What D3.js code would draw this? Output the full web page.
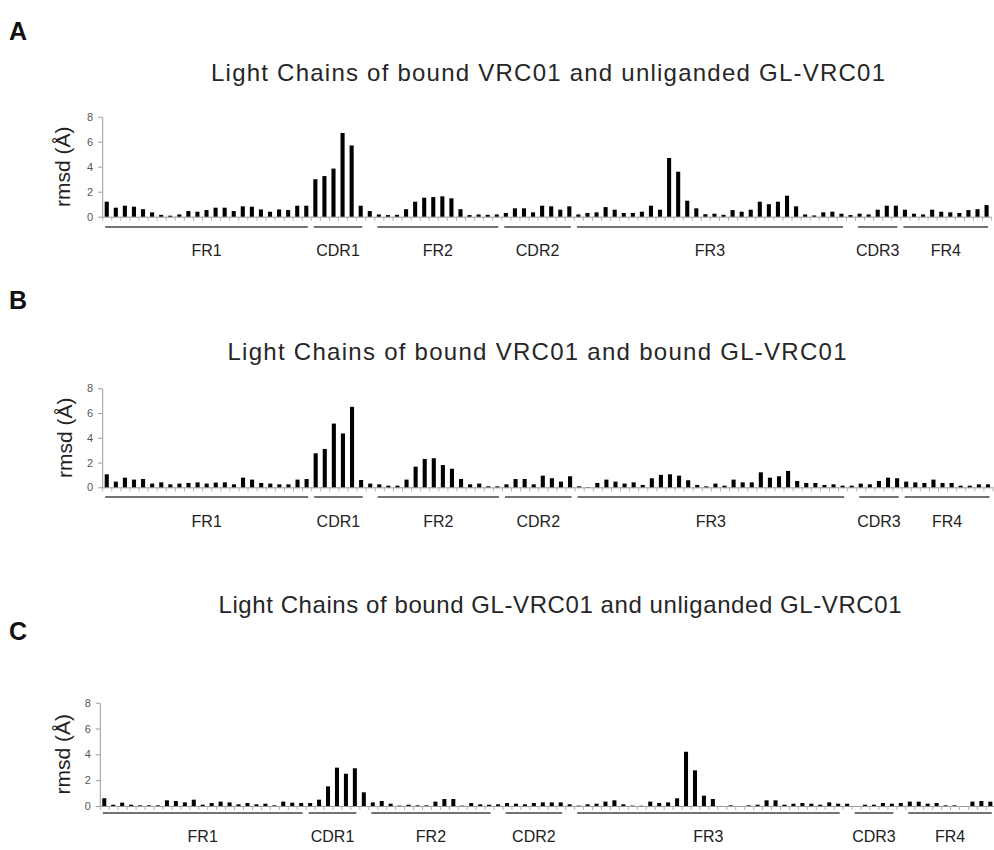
<!DOCTYPE html>
<html>
<head>
<meta charset="utf-8">
<script src="https://cdn.jsdelivr.net/npm/d3@7"></script>
<style>
  html, body { margin: 0; padding: 0; background: #fff; }
  svg { display: block; font-family: "Liberation Sans", Arial, sans-serif; }
</style>
</head>
<body>
<svg id="chart" width="994" height="850"></svg>
<script>
// ---------- DATA ----------
const yTicks = [0, 2, 4, 6, 8];
const yLabel = "rmsd (Å)";

const titleA = "Light Chains of bound VRC01 and unliganded GL-VRC01";
const titleB = "Light Chains of bound VRC01 and bound GL-VRC01";
const titleC = "Light Chains of bound GL-VRC01 and unliganded GL-VRC01";

// rmsd per residue, panel A (bound VRC01 vs unliganded GL-VRC01)
const valuesA = [
  1.2, 0.72, 0.88, 0.8, 0.6, 0.35, 0.15, 0.08, 0.18, 0.45,
  0.4, 0.53, 0.72, 0.72, 0.45, 0.83, 0.8, 0.58, 0.4, 0.58,
  0.53, 0.88, 0.88, 3.0, 3.25, 3.85, 6.7, 5.7, 0.88, 0.45,
  0.18, 0.13, 0.15, 0.6, 1.2, 1.52, 1.57, 1.63, 1.47, 0.6,
  0.13, 0.18, 0.15, 0.18, 0.3, 0.67, 0.67, 0.35, 0.88, 0.83,
  0.56, 0.83, 0.18, 0.3, 0.35, 0.77, 0.56, 0.3, 0.3, 0.4,
  0.88, 0.56, 4.7, 3.6, 1.28, 0.67, 0.2, 0.24, 0.15, 0.53,
  0.4, 0.56, 1.2, 1.0, 1.2, 1.68, 0.83, 0.18, 0.1, 0.35,
  0.4, 0.24, 0.13, 0.24, 0.18, 0.56, 0.88, 0.88, 0.56, 0.24,
  0.18, 0.56, 0.4, 0.35, 0.3, 0.53, 0.6, 0.93
];

// panel B (bound VRC01 vs bound GL-VRC01)
const valuesB = [
  1.05, 0.46, 0.78, 0.62, 0.67, 0.3, 0.4, 0.24, 0.3, 0.35,
  0.4, 0.3, 0.38, 0.4, 0.24, 0.78, 0.62, 0.35, 0.3, 0.24,
  0.24, 0.62, 0.67, 2.75, 3.1, 5.15, 4.35, 6.5, 0.59, 0.3,
  0.24, 0.13, 0.13, 0.62, 1.67, 2.29, 2.35, 1.8, 1.5, 0.67,
  0.24, 0.3, 0.08, 0.08, 0.24, 0.67, 0.67, 0.24, 0.94, 0.73,
  0.46, 0.89, 0.08, 0.02, 0.35, 0.62, 0.46, 0.3, 0.4, 0.19,
  0.73, 1.0, 1.05, 0.94, 0.57, 0.19, 0.08, 0.3, 0.13, 0.62,
  0.4, 0.4, 1.21, 0.78, 0.89, 1.32, 0.51, 0.35, 0.35, 0.19,
  0.24, 0.13, 0.13, 0.3, 0.24, 0.51, 0.78, 0.73, 0.46, 0.4,
  0.35, 0.62, 0.35, 0.35, 0.13, 0.13, 0.24, 0.24
];

// panel C (bound GL-VRC01 vs unliganded GL-VRC01)
const valuesC = [
  0.6, 0.1, 0.26, 0.1, 0.05, 0.05, 0.05, 0.44, 0.39, 0.28,
  0.49, 0.1, 0.23, 0.34, 0.28, 0.13, 0.23, 0.13, 0.18, 0.05,
  0.34, 0.26, 0.23, 0.23, 0.49, 1.52, 2.97, 2.5, 2.92, 1.06,
  0.28, 0.39, 0.18, 0.03, 0.1, 0.05, 0.05, 0.34, 0.54, 0.54,
  0.03, 0.23, 0.13, 0.1, 0.13, 0.23, 0.18, 0.13, 0.23, 0.28,
  0.28, 0.28, 0.13, 0.03, 0.13, 0.18, 0.34, 0.44, 0.13, 0.03,
  0.02, 0.34, 0.23, 0.28, 0.6, 4.2, 2.76, 0.8, 0.54, 0.0,
  0.05, 0.0, 0.05, 0.1, 0.44, 0.44, 0.1, 0.18, 0.23, 0.18,
  0.1, 0.28, 0.18, 0.18, 0.0, 0.1, 0.1, 0.23, 0.18, 0.23,
  0.34, 0.34, 0.18, 0.23, 0.05, 0.05, 0.0, 0.34, 0.39, 0.34
];

// regions: label + first / last residue index
const regionNames = ["FR1", "CDR1", "FR2", "CDR2", "FR3", "CDR3", "FR4"];
const regionStartAB = [1, 24, 31, 45, 53, 84, 89];
const regionEndAB   = [23, 29, 44, 52, 82, 88, 98];
const regionStartC  = [1, 24, 31, 46, 54, 85, 91];
const regionEndC    = [23, 29, 44, 52, 83, 89, 100];

// ---------- DRAW ----------
const svg = d3.select("#chart");

function drawPanel(p) {
  const n = p.values.length;
  const g = svg.append("g");
  const x = d3.scaleBand()
    .domain(d3.range(1, n + 1))
    .range([p.x0, p.x1])
    .paddingInner(0.55)
    .paddingOuter(0.275);
  const xb = d3.scaleLinear().domain([0, n]).range([p.x0, p.x1]);
  const y = d3.scaleLinear().domain([0, 8]).range([p.yBottom, p.yTop]);

  // panel letter
  g.append("text")
    .attr("x", 9).attr("y", p.letterY)
    .attr("font-size", 25).attr("font-weight", "bold").attr("fill", "#111")
    .text(p.letter);

  // title
  g.append("text")
    .attr("x", p.titleX).attr("y", p.titleY)
    .attr("text-anchor", "middle")
    .attr("font-size", 24).attr("fill", "#262626")
    .attr("textLength", p.titleLen).attr("lengthAdjust", "spacing")
    .text(p.title);

  // x axis (baseline with ticks between residues)
  const xAxis = d3.axisBottom(xb)
    .tickValues(d3.range(0, n + 1))
    .tickFormat("")
    .tickSize(4)
    .tickSizeOuter(0);
  const gx = g.append("g")
    .attr("transform", `translate(0,${p.yBottom})`)
    .call(xAxis);
  gx.select(".domain").attr("stroke", "#9a9a9a");
  gx.selectAll(".tick line").attr("stroke", "#b0b0b0");

  // y axis
  const yAxis = d3.axisLeft(y).tickValues(yTicks).tickSize(4).tickSizeOuter(0).tickPadding(5);
  const gy = g.append("g")
    .attr("transform", `translate(${p.x0},0)`)
    .call(yAxis);
  gy.select(".domain").attr("stroke", "#9a9a9a");
  gy.selectAll(".tick line").attr("stroke", "#9a9a9a");
  gy.selectAll(".tick text")
    .attr("font-size", 11).attr("fill", "#555")
    .attr("font-family", "'Liberation Sans', Arial, sans-serif");

  // y label
  g.append("text")
    .attr("transform", `translate(${p.yLabelX},${(p.yTop + p.yBottom) / 2}) rotate(-90)`)
    .attr("text-anchor", "middle")
    .attr("font-size", 21).attr("fill", "#222")
    .text(yLabel);

  // bars
  g.selectAll("rect.bar")
    .data(p.values)
    .join("rect")
    .attr("class", "bar")
    .attr("x", (d, i) => x(i + 1))
    .attr("y", d => y(d))
    .attr("width", x.bandwidth())
    .attr("height", d => y(0) - y(d))
    .attr("fill", "#000");

  // region lines and labels
  const regions = regionNames.map((name, i) => ({
    name, start: p.regionStart[i], end: p.regionEnd[i]
  }));
  g.selectAll("line.region")
    .data(regions)
    .join("line")
    .attr("class", "region")
    .attr("x1", r => xb(r.start - 1) + 3)
    .attr("x2", r => Math.min(xb(r.end) - 3, 994))
    .attr("y1", p.regionY).attr("y2", p.regionY)
    .attr("stroke", "#444").attr("stroke-width", 1.6);
  g.selectAll("text.region")
    .data(regions)
    .join("text")
    .attr("class", "region")
    .attr("x", r => (xb(r.start - 1) + xb(r.end)) / 2)
    .attr("y", p.regionLabelY)
    .attr("text-anchor", "middle")
    .attr("font-size", 16).attr("fill", "#222")
    .text(r => r.name);
}

drawPanel({
  letter: "A", letterY: 40, title: titleA, titleX: 548, titleY: 81, titleLen: 674,
  values: valuesA, x0: 102.2, x1: 991.1, yTop: 116.7, yBottom: 216.7, yLabelX: 70,
  regionStart: regionStartAB, regionEnd: regionEndAB, regionY: 227, regionLabelY: 256
});
drawPanel({
  letter: "B", letterY: 309, title: titleB, titleX: 537, titleY: 360, titleLen: 619,
  values: valuesB, x0: 102.2, x1: 992.5, yTop: 388.3, yBottom: 487.3, yLabelX: 72,
  regionStart: regionStartAB, regionEnd: regionEndAB, regionY: 497, regionLabelY: 527
});
drawPanel({
  letter: "C", letterY: 640, title: titleC, titleX: 560, titleY: 613, titleLen: 683,
  values: valuesC, x0: 99.8, x1: 994.8, yTop: 702.7, yBottom: 806, yLabelX: 70,
  regionStart: regionStartC, regionEnd: regionEndC, regionY: 813, regionLabelY: 842
});
</script>
</body>
</html>
